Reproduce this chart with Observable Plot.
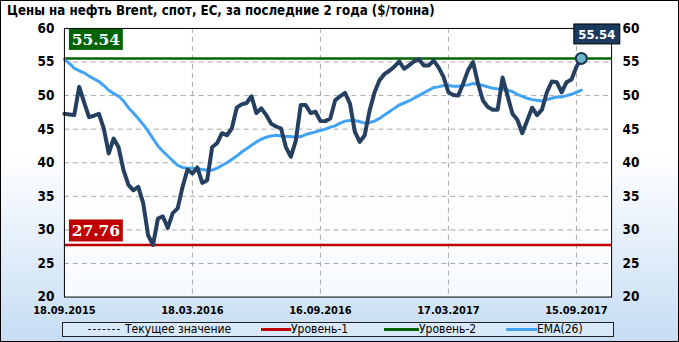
<!DOCTYPE html>
<html>
<head>
<meta charset="utf-8">
<script src="https://cdn.jsdelivr.net/npm/d3@7"></script>
<script src="https://cdn.jsdelivr.net/npm/@observablehq/plot@0.6"></script>
<style>
  html, body { margin: 0; padding: 0; background: #fff; }
  #frame {
    position: relative; width: 679px; height: 342px; box-sizing: border-box;
    border: 1px solid #000; overflow: hidden;
    background: linear-gradient(to bottom, #ffffff 0%, #ffffff 45%, #c6ddf4 100%);
    font-family: Tahoma, "DejaVu Sans Condensed", "DejaVu Sans", sans-serif;
  }
  #title { position: absolute; left: 6px; top: 1px; font-weight: bold; font-size: 13.2px; line-height: 17px; color: #000; white-space: nowrap; }
  #chart { position: absolute; left: -1px; top: -1px; }
  #legend {
    position: absolute; left: 61px; top: 321px; width: 550px; height: 13px;
    border: 1px solid #222; background: #d9e9f9; font-size: 12px; line-height: 13px; color: #000;
  }
  .li { position: absolute; top: 0; white-space: nowrap; }
  .sw { position: absolute; top: 6px; height: 0; }
</style>
</head>
<body>
<div id="frame">
  <div id="title"></div>
  <div id="chart"></div>
  <div id="legend"></div>
</div>
<script>
// ---- data ----
const titleText = "Цены на нефть Brent, спот, ЕС, за последние 2 года ($/тонна)";
const startDate = "18.09.2015";       // first weekly observation
const endDate = "04.11.2017";         // right end of the x axis
const tickLabels = ["18.09.2015", "18.03.2016", "16.09.2016", "17.03.2017", "15.09.2017"];
const yTicks = [20, 25, 30, 35, 40, 45, 50, 55, 60];
const prices = [
  47.3, 47.2, 47.1, 51.3, 49.0, 46.8, 47.0, 47.3, 45.1, 41.4,
  43.6, 42.3, 38.9, 36.7, 35.9, 36.4, 34.0, 29.2, 27.76, 31.7,
  32.0, 30.3, 32.5, 33.2, 36.4, 39.0, 38.4, 39.3, 37.0, 37.4,
  42.3, 42.9, 44.4, 44.1, 45.1, 48.2, 48.7, 48.9, 49.9, 47.4,
  48.1, 47.1, 45.8, 45.4, 45.1, 42.3, 40.9, 43.3, 48.6, 48.6,
  47.4, 47.6, 46.2, 46.2, 46.6, 49.3, 49.9, 50.4, 48.8, 44.6,
  43.1, 44.1, 47.8, 50.5, 52.3, 53.2, 53.7, 54.3, 55.1, 54.0,
  54.5, 55.1, 55.4, 54.5, 54.5, 55.2, 54.2, 52.8, 50.5, 50.1,
  50.0, 51.8, 53.8, 55.0, 51.8, 49.3, 48.3, 47.9, 47.9, 52.7,
  50.0, 47.3, 46.4, 44.4, 46.3, 48.2, 47.1, 47.9, 50.5, 52.1,
  52.0, 50.5, 52.0, 52.4, 54.3, 55.54
];
const ema26 = [
  55.4, 54.8, 54.1, 53.7, 53.4, 52.9, 52.5, 52.1, 51.5, 50.8,
  50.3, 49.9, 49.2, 48.2, 47.4, 46.6, 45.7, 44.7, 43.6, 42.5,
  41.7, 41.0, 40.3, 39.6, 39.3, 39.2, 39.2, 39.1, 39.0, 38.9,
  38.9, 39.2, 39.6, 40.0, 40.5, 41.0, 41.6, 42.1, 42.6, 43.1,
  43.5, 43.8, 44.0, 44.1, 44.0, 43.9, 43.9, 43.8, 43.9, 44.2,
  44.4, 44.6, 44.8, 45.0, 45.3, 45.5, 45.9, 46.2, 46.3, 46.3,
  46.1, 45.9, 46.0, 46.2, 46.6, 47.1, 47.6, 48.1, 48.6, 48.9,
  49.2, 49.6, 50.0, 50.4, 50.8, 51.2, 51.3, 51.5, 51.5, 51.4,
  51.4, 51.5, 51.6, 51.8, 51.7, 51.5, 51.3, 51.1, 51.0, 50.9,
  50.8, 50.6, 50.2, 49.9, 49.6, 49.4, 49.3, 49.2, 49.4, 49.6,
  49.8, 49.8, 50.0, 50.2, 50.5, 50.8
];
const level1 = 27.76;   // Уровень-1
const level2 = 55.54;   // Уровень-2
const legendLabels = ["Текущее значение", "Уровень-1", "Уровень-2", "EMA(26)"];
const colors = { price: "#243f60", ema: "#42a3f5", level1: "#c00000", level2: "#006400", current: "#333333" };

// ---- build ----
const parse = d3.utcParse("%d.%m.%Y");
const fmt = d3.utcFormat("%d.%m.%Y");
const t0 = parse(startDate);
const WEEK = 7 * 24 * 3600 * 1000;
const data = prices.map((v, i) => ({ date: new Date(+t0 + i * WEEK), price: v, ema: ema26[i] }));
const last = data[data.length - 1];
const xTicks = tickLabels.map(parse);
const font = 'Tahoma, "DejaVu Sans Condensed", "DejaVu Sans", sans-serif';

document.getElementById("title").textContent = titleText;

const plot = Plot.plot({
  width: 679, height: 342,
  marginTop: 28, marginBottom: 45, marginLeft: 64, marginRight: 67,
  style: { fontFamily: font, fontSize: "12px", fontWeight: "bold", color: "#000", background: "transparent", overflow: "visible" },
  x: { type: "utc", domain: [t0, parse(endDate)] },
  y: { domain: [20, 60] },
  marks: [
    Plot.frame({ fill: "white", fillOpacity: 0.82, stroke: null }),
    Plot.gridY(yTicks.slice(1, -1), { stroke: "#a8a8a8", strokeOpacity: 1, strokeDasharray: "5,4" }),
    Plot.gridX(xTicks.slice(1), { stroke: "#a8a8a8", strokeOpacity: 1, strokeDasharray: "5,4" }),
    Plot.ruleY([last.price], { stroke: colors.current, strokeDasharray: "3,2" }),
    Plot.ruleY([level1], { stroke: colors.level1, strokeWidth: 2.5 }),
    Plot.ruleY([level2], { stroke: colors.level2, strokeWidth: 2.5 }),
    Plot.line(data, { x: "date", y: "ema", stroke: colors.ema, strokeWidth: 3 }),
    Plot.line(data, { x: "date", y: "price", stroke: colors.price, strokeWidth: 4 }),
    Plot.dot([last], { x: "date", y: "price", r: 5.5, fill: "#6db5cb", stroke: "#1b3553", strokeWidth: 2 }),
    Plot.frame({ stroke: "#000", strokeWidth: 1 }),
    Plot.axisY({ anchor: "left", ticks: yTicks, tickSize: 0, tickPadding: 10, fontSize: 13.5, label: null }),
    Plot.axisY({ anchor: "right", ticks: yTicks, tickSize: 0, tickPadding: 11, fontSize: 13.5, label: null }),
    Plot.axisX({ ticks: xTicks, tickFormat: fmt, tickSize: 0, tickPadding: 9, fontSize: 11, label: null })
  ]
});
document.getElementById("chart").appendChild(plot);

// value boxes positioned through the plot's scales
const X = plot.scale("x"), Y = plot.scale("y");
const svg = d3.select(plot);
function box(x, y, w, h, fill, stroke, text, fontFamily, size) {
  const g = svg.append("g");
  g.append("rect").attr("x", x).attr("y", y).attr("width", w).attr("height", h)
    .attr("fill", fill).attr("stroke", stroke || "none");
  g.append("text").attr("x", x + w / 2).attr("y", y + h / 2).attr("dy", "0.36em")
    .attr("text-anchor", "middle").attr("fill", "#fff").attr("font-family", fontFamily)
    .attr("font-size", size).attr("font-weight", "bold").text(text);
}
const x0 = X.apply(t0);
box(x0 + 5, Y.apply(level2) - 29, 54, 21, colors.level2, null, level2.toFixed(2), '"DejaVu Serif", serif', 15.5);
box(x0 + 5, Y.apply(level1) - 25, 54, 22, colors.level1, null, level1.toFixed(2), '"DejaVu Serif", serif', 15.5);
box(X.apply(last.date) - 7, 24, 46, 20, "#1b3a5c", "#000", last.price.toFixed(2), font, 13);

// legend
const lg = document.getElementById("legend");
const items = [
  { sx: 25, sw: 32, style: "border-top:1.5px dashed #222", tx: 62 },
  { sx: 198, sw: 30, style: "border-top:3px solid " + colors.level1, tx: 228 },
  { sx: 321, sw: 35, style: "border-top:3px solid " + colors.level2, tx: 356 },
  { sx: 443, sw: 31, style: "border-top:3px solid " + colors.ema, tx: 474 }
];
items.forEach((it, i) => {
  const s = document.createElement("div");
  s.className = "sw"; s.style.cssText = `left:${it.sx}px;width:${it.sw}px;` + it.style + ";top:" + (i === 0 ? 6 : 5) + "px";
  lg.appendChild(s);
  const t = document.createElement("div");
  t.className = "li"; t.style.left = it.tx + "px"; t.textContent = legendLabels[i];
  lg.appendChild(t);
});
</script>
</body>
</html>
